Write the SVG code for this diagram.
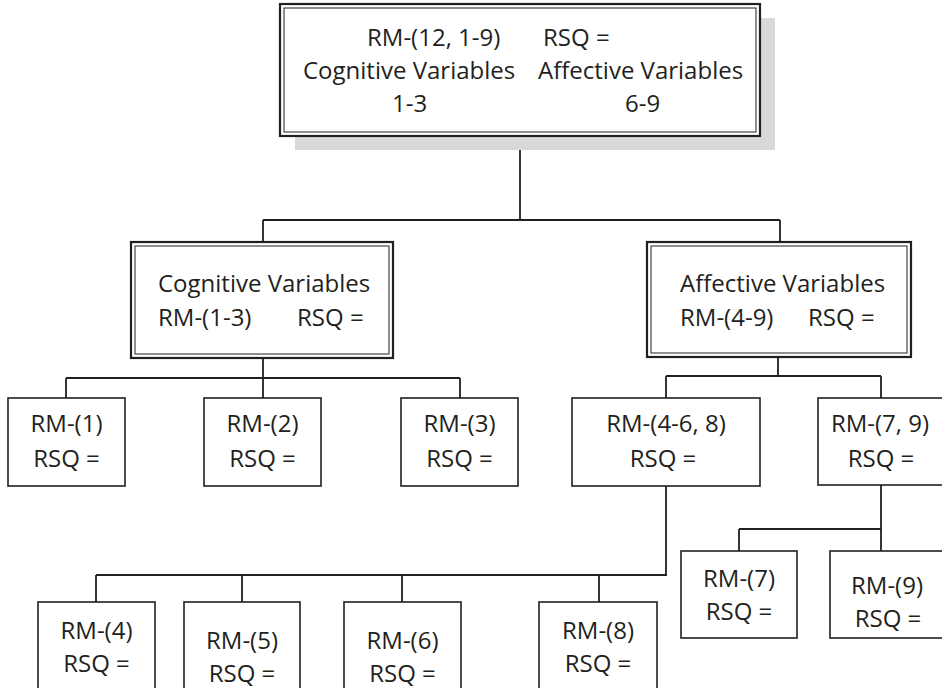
<svg xmlns="http://www.w3.org/2000/svg" width="942" height="688" viewBox="0 0 942 688">
  <style>
    .box { fill: #ffffff; stroke: #231f20; stroke-width: 1.6; }
    .outer { fill: #ffffff; stroke: #231f20; stroke-width: 2.2; }
    .inner { fill: none; stroke: #231f20; stroke-width: 1; }
    .shadow { fill: #d9d9d9; stroke: none; }
    .wire { fill: none; stroke: #231f20; stroke-width: 1.8; }
    text { font-family: "Open Sans", "Noto Sans", "Liberation Sans", sans-serif; font-size: 24px; fill: #231f20; font-variant-ligatures: none; }
    .c { text-anchor: middle; }
  </style>

  <!-- connectors -->
  <g id="connectors">
    <path class="wire" d="M520,136 V220 M263,220 H780 M263,220 V242 M780,220 V242"/>
    <path class="wire" d="M263,358 V378 M66,378 H460 M66,378 V398 M263,378 V398 M460,378 V398"/>
    <path class="wire" d="M778,357 V376 M666,376 H881 M666,376 V398 M881,376 V398"/>
    <path class="wire" d="M666,486 V575 H96 M96,575 V602 M242,575 V602 M402,575 V602 M599,575 V602"/>
    <path class="wire" d="M881,485 V551 M739,529 H881 M739,529 V551"/>
  </g>

  <!-- root model -->
  <g id="root">
    <rect class="shadow" x="295" y="18" width="480" height="132"/>
    <rect class="outer" x="280" y="4" width="480" height="132"/>
    <rect class="inner" x="284" y="8" width="472" height="124"/>
    <text x="367" y="46">RM-(12, 1-9)</text>
    <text x="543" y="46">RSQ =</text>
    <text x="303" y="79">Cognitive Variables</text>
    <text x="538" y="79">Affective Variables</text>
    <text x="392" y="112">1-3</text>
    <text x="625" y="112">6-9</text>
  </g>

  <!-- second level -->
  <g id="cognitive">
    <rect class="outer" x="131" y="242" width="262" height="116"/>
    <rect class="inner" x="135" y="246" width="254" height="108"/>
    <text x="158" y="292">Cognitive Variables</text>
    <text x="158" y="326">RM-(1-3)</text>
    <text x="297" y="326">RSQ =</text>
  </g>
  <g id="affective">
    <rect class="outer" x="647" y="242" width="264" height="115"/>
    <rect class="inner" x="651" y="246" width="256" height="107"/>
    <text x="680" y="292">Affective Variables</text>
    <text x="680" y="326">RM-(4-9)</text>
    <text x="808" y="326">RSQ =</text>
  </g>

  <!-- third level -->
  <g id="rm1">
    <rect class="box" x="8" y="398" width="117" height="88"/>
    <text class="c"><tspan x="66.5" y="432">RM-(1)</tspan><tspan x="66.5" y="467">RSQ =</tspan></text>
  </g>
  <g id="rm2">
    <rect class="box" x="204" y="398" width="117" height="88"/>
    <text class="c"><tspan x="262.5" y="432">RM-(2)</tspan><tspan x="262.5" y="467">RSQ =</tspan></text>
  </g>
  <g id="rm3">
    <rect class="box" x="401" y="398" width="117" height="88"/>
    <text class="c"><tspan x="459.5" y="432">RM-(3)</tspan><tspan x="459.5" y="467">RSQ =</tspan></text>
  </g>
  <g id="rm4568">
    <rect class="box" x="572" y="398" width="188" height="88"/>
    <text class="c"><tspan x="666" y="432">RM-(4-6, 8)</tspan><tspan x="663" y="467">RSQ =</tspan></text>
  </g>
  <g id="rm79">
    <rect class="box" x="818" y="398" width="128" height="87"/>
    <text class="c"><tspan x="880" y="432">RM-(7, 9)</tspan><tspan x="881" y="467">RSQ =</tspan></text>
  </g>

  <!-- leaves of (7, 9) -->
  <g id="rm7">
    <rect class="box" x="681" y="551" width="116" height="87"/>
    <text class="c"><tspan x="739" y="587">RM-(7)</tspan><tspan x="739" y="620">RSQ =</tspan></text>
  </g>
  <g id="rm9">
    <rect class="box" x="830" y="551" width="116" height="87"/>
    <text class="c"><tspan x="887" y="594">RM-(9)</tspan><tspan x="888" y="627">RSQ =</tspan></text>
  </g>

  <!-- leaves of (4-6, 8) -->
  <g id="rm4">
    <rect class="box" x="38" y="602" width="117" height="100"/>
    <text class="c"><tspan x="96.5" y="639">RM-(4)</tspan><tspan x="96.5" y="672">RSQ =</tspan></text>
  </g>
  <g id="rm5">
    <rect class="box" x="184" y="602" width="116" height="100"/>
    <text class="c"><tspan x="242" y="649">RM-(5)</tspan><tspan x="242" y="682">RSQ =</tspan></text>
  </g>
  <g id="rm6">
    <rect class="box" x="344" y="602" width="117" height="100"/>
    <text class="c"><tspan x="402.5" y="649">RM-(6)</tspan><tspan x="402.5" y="682">RSQ =</tspan></text>
  </g>
  <g id="rm8">
    <rect class="box" x="539" y="602" width="118" height="100"/>
    <text class="c"><tspan x="598" y="639">RM-(8)</tspan><tspan x="598" y="672">RSQ =</tspan></text>
  </g>
</svg>
